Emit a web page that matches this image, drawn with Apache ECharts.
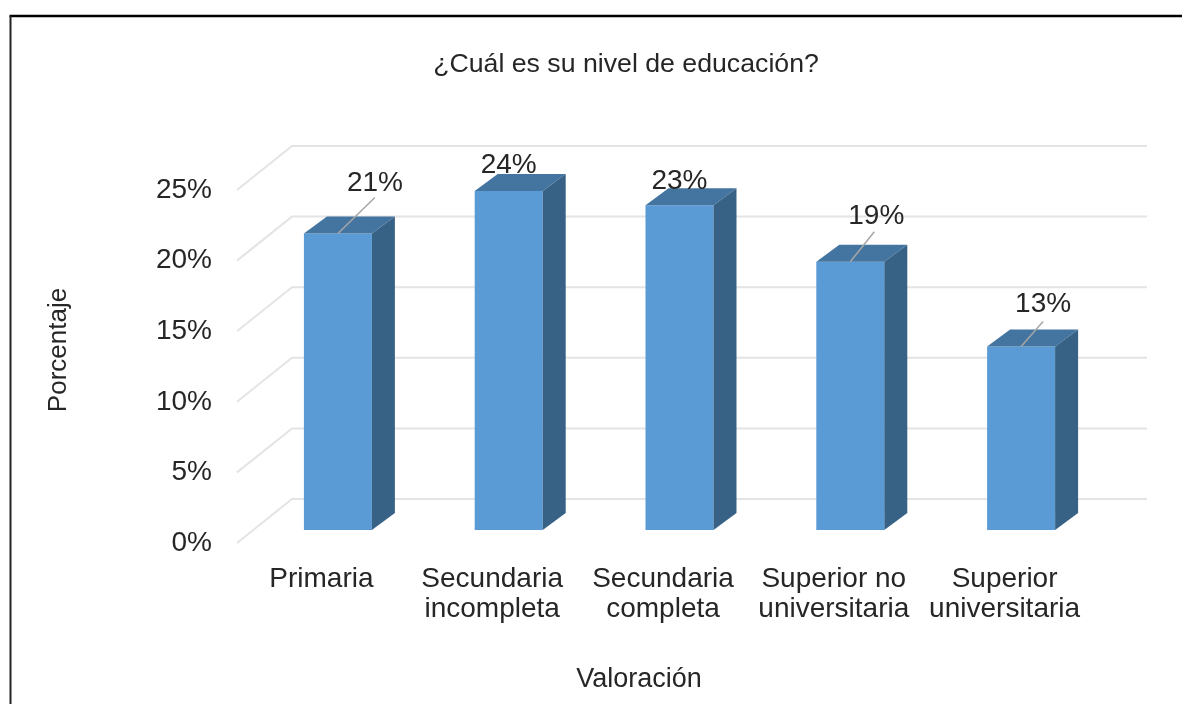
<!DOCTYPE html>
<html>
<head>
<meta charset="utf-8">
<script src="https://cdn.jsdelivr.net/npm/echarts@6/dist/echarts.min.js"></script>
<style>
  html, body { margin: 0; padding: 0; background: #fff; }
  #chart { width: 1182px; height: 704px; }
</style>
</head>
<body>
<div id="chart"></div>
<script>
const categories = ['Primaria', 'Secundaria\nincompleta', 'Secundaria\ncompleta', 'Superior no\nuniversitaria', 'Superior\nuniversitaria'];
const values = [21, 24, 23, 19, 13];
const ticks = [0, 5, 10, 15, 20, 25];

const FONT = '"Liberation Sans", Arial, sans-serif';
const TEXT = '#262626';
// perspective offsets, in px
const WALL_DX = 55, WALL_DY = -44;   // front of the floor to the back wall
const BAR_DX = 15.5, BAR_DY = -13;   // front of the floor to the bar front
const DEPTH_DX = 23, DEPTH_DY = -17; // bar depth
const BAR_W = 68;
// where each value label sits relative to the bar top; leader only where the label was moved away
const labelPos = [
  { dx: 37, dy: -50, leader: [37, -36] },
  { dx: 0, dy: -26 },
  { dx: 0, dy: -24 },
  { dx: 26, dy: -45, leader: [24, -30] },
  { dx: 22, dy: -42, leader: [22, -25] }
];

const chart = echarts.init(document.getElementById('chart'));

function renderGrid(params, api) {
  const p = api.coord([0, api.value(0)]);
  const left = params.coordSys.x;
  const right = left + params.coordSys.width;
  return {
    type: 'polyline',
    shape: { points: [[left, p[1]], [left + WALL_DX, p[1] + WALL_DY], [right + WALL_DX + 1, p[1] + WALL_DY]] },
    style: { fill: null, stroke: '#e4e4e4', lineWidth: 2 }
  };
}

function renderBar(params, api) {
  const top = api.coord([api.value(0), api.value(1)]);
  const base = api.coord([api.value(0), 0]);
  const x0 = top[0] + BAR_DX - BAR_W / 2, x1 = x0 + BAR_W;
  const y0 = top[1] + BAR_DY, y1 = base[1] + BAR_DY;
  return {
    type: 'group',
    children: [
      { type: 'rect', shape: { x: x0, y: y0, width: BAR_W, height: y1 - y0 }, style: { fill: '#5b9bd5' } },
      { type: 'polygon', shape: { points: [[x0, y0], [x0 + DEPTH_DX, y0 + DEPTH_DY], [x1 + DEPTH_DX, y0 + DEPTH_DY], [x1, y0]] }, style: { fill: '#4475a1' } },
      { type: 'polygon', shape: { points: [[x1, y0], [x1 + DEPTH_DX, y0 + DEPTH_DY], [x1 + DEPTH_DX, y1 + DEPTH_DY], [x1, y1]] }, style: { fill: '#376286' } }
    ]
  };
}

function renderLabel(params, api) {
  const top = api.coord([api.value(0), api.value(1)]);
  const cx = top[0] + BAR_DX;
  const y0 = top[1] + BAR_DY;
  const pos = labelPos[params.dataIndex];
  const children = [{
    type: 'text',
    x: cx + pos.dx,
    y: y0 + pos.dy,
    style: { text: api.value(1) + '%', font: '28px ' + FONT, fill: TEXT, align: 'center', verticalAlign: 'middle' }
  }];
  if (pos.leader) {
    children.push({
      type: 'line',
      shape: { x1: cx, y1: y0, x2: cx + pos.leader[0], y2: y0 + pos.leader[1] },
      style: { stroke: '#a6a6a6', lineWidth: 1.5 }
    });
  }
  return { type: 'group', children: children };
}

chart.setOption({
  animation: false,
  grid: { left: 237, top: 190, width: 854, height: 353 },
  xAxis: {
    type: 'category',
    data: categories,
    axisLine: { show: false },
    axisTick: { show: false },
    axisLabel: { fontFamily: FONT, fontSize: 28, color: TEXT, lineHeight: 30, margin: 21, interval: 0, padding: [0, 2, 0, 0] }
  },
  yAxis: {
    type: 'value',
    min: 0,
    max: 25,
    interval: 5,
    axisLine: { show: false },
    axisTick: { show: false },
    splitLine: { show: false },
    axisLabel: { formatter: '{value}%', fontFamily: FONT, fontSize: 28, color: TEXT, margin: 25, padding: [3, 0, 0, 0] }
  },
  series: [
    { type: 'custom', renderItem: renderGrid, data: ticks.map(t => [t]), encode: { y: 0 }, silent: true, z: 1 },
    { type: 'custom', renderItem: renderBar, data: values.map((v, i) => [i, v]), encode: { x: 0, y: 1 }, z: 2 },
    { type: 'custom', renderItem: renderLabel, data: values.map((v, i) => [i, v]), encode: { x: 0, y: 1 }, silent: true, z: 3 }
  ],
  graphic: [
    { type: 'line', shape: { x1: 9.5, y1: 16, x2: 1182, y2: 16 }, style: { stroke: '#000', lineWidth: 2.5 } },
    { type: 'line', shape: { x1: 10.5, y1: 16, x2: 10.5, y2: 704 }, style: { stroke: '#222', lineWidth: 2 } },
    { type: 'text', x: 626, y: 65, style: { text: '¿Cuál es su nivel de educación?', font: '26.7px ' + FONT, fill: TEXT, align: 'center', verticalAlign: 'middle' } },
    { type: 'text', x: 639, y: 680, style: { text: 'Valoración', font: '27px ' + FONT, fill: TEXT, align: 'center', verticalAlign: 'middle' } },
    { type: 'text', x: 59, y: 350, rotation: Math.PI / 2, style: { text: 'Porcentaje', font: '26px ' + FONT, fill: TEXT, align: 'center', verticalAlign: 'middle' } }
  ]
});
</script>
</body>
</html>
